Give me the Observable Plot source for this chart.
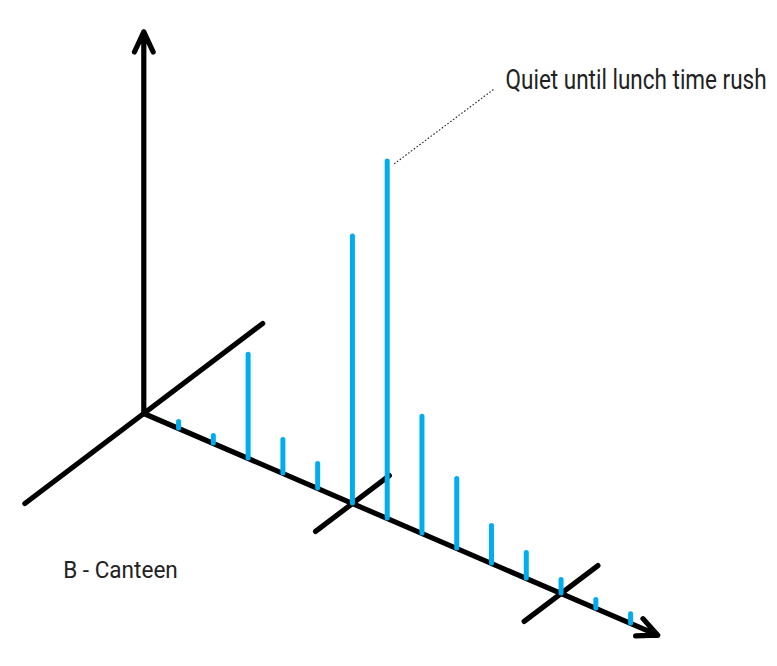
<!DOCTYPE html>
<html>
<head>
<meta charset="utf-8">
<script src="https://cdn.jsdelivr.net/npm/d3@7"></script>
<script src="https://cdn.jsdelivr.net/npm/@observablehq/plot@0.6"></script>
<style>
  body { margin: 0; background: #fff; }
  #chart { width: 777px; height: 666px; }
</style>
</head>
<body>
<div id="chart"></div>
<script>
// ---- data ----
const hours = ["7:00","8:00","9:00","10:00","11:00","12:00","13:00","14:00","15:00","16:00","17:00","18:00","19:00","20:00"];
const visitors = [1.8, 2.1, 28.8, 9.3, 6.8, 74.2, 99.2, 32.4, 19.3, 10.4, 7.1, 3.75, 2.4, 2.6];
const tickSteps = [6, 12];           // cross ticks along the time axis
const axisEnd = 14.78;               // length of the time axis (in hour steps)
const valueAxisTop = 106;            // height of vertical axis (value units)
const title = "B - Canteen";
const noteText = "Quiet until lunch time rush";
const noteIndex = 6;                 // index into visitors (13:00)

// ---- oblique projection: t = step along time axis, v = value, d = depth ----
const SLOPE = 4.167;    // value units the baseline drops per step
const DX = 3.42;        // depth -> x (steps)
const DY = 25;          // depth -> y (value units)
const px = (t, d = 0) => t + d * DX;
const py = (t, v, d = 0) => v - t * SLOPE + d * DY;

const bars = visitors.map((v, i) => ({hour: hours[i], t: i + 1, v}));

const arrows = [
  {x1: px(0), y1: py(0, 0), x2: px(0), y2: py(0, valueAxisTop)},
  {x1: px(0), y1: py(0, 0), x2: px(axisEnd), y2: py(axisEnd, 0)}
];
const depthLines = [
  {x1: px(0, -1), y1: py(0, 0, -1), x2: px(0, 1), y2: py(0, 0, 1)},
  ...tickSteps.map(t => ({x1: px(t, -0.31), y1: py(t, 0, -0.31), x2: px(t, 0.31), y2: py(t, 0, 0.31)}))
];

const nb = bars[noteIndex];
const note = [{
  x1: px(nb.t + 0.2), y1: py(nb.t, nb.v) - 0.7,
  x2: px(nb.t + 3.06), y2: py(nb.t, nb.v) + 20,
  label: noteText
}];

const FONT = 'Roboto, "Liberation Sans", sans-serif';
const BLUE = "#00aeef";

const chart = Plot.plot({
  width: 777,
  height: 666,
  marginLeft: 143.3,
  marginRight: 146.9,
  marginTop: 53,
  marginBottom: 253,
  x: {domain: [0, 14], axis: null},
  y: {domain: [0, 100], axis: null},
  style: {fontFamily: FONT, background: "#fff"},
  marks: [
    Plot.link(depthLines, {x1: "x1", y1: "y1", x2: "x2", y2: "y2", stroke: "#000", strokeWidth: 5.2, strokeLinecap: "round"}),
    Plot.arrow(arrows, {x1: "x1", y1: "y1", x2: "x2", y2: "y2", stroke: "#000", strokeWidth: 5.2,
      headLength: 6.4, headAngle: 50, strokeLinecap: "round", strokeLinejoin: "round"}),
    Plot.ruleX(bars, {x: "t", y1: d => py(d.t, 0), y2: d => py(d.t, d.v), stroke: BLUE, strokeWidth: 5, strokeLinecap: "round"}),
    Plot.link(note, {x1: "x1", y1: "y1", x2: "x2", y2: "y2", stroke: "#222", strokeWidth: 1.1, strokeDasharray: "1.6,1.9"}),
    Plot.text(note, {x: "x2", y: "y2", text: "label", dx: 12, dy: -9.6, textAnchor: "start", lineAnchor: "middle",
      fontSize: 27.8, fill: "#222", fontFamily: FONT, className: "note-label"}),
    Plot.text([title], {frameAnchor: "bottom-left", text: d => d, dx: -80.6, dy: 156.5, textAnchor: "start", lineAnchor: "middle",
      fontSize: 23.5, fill: "#222", fontFamily: FONT, className: "title-label"})
  ]
});
// condensed look: fit the texts to the widths seen in the reference
d3.select(chart).selectAll(".note-label text").attr("textLength", 261).attr("lengthAdjust", "spacingAndGlyphs");
d3.select(chart).selectAll(".title-label text").attr("textLength", 114.6).attr("lengthAdjust", "spacingAndGlyphs");
document.getElementById("chart").append(chart);
</script>
</body>
</html>
